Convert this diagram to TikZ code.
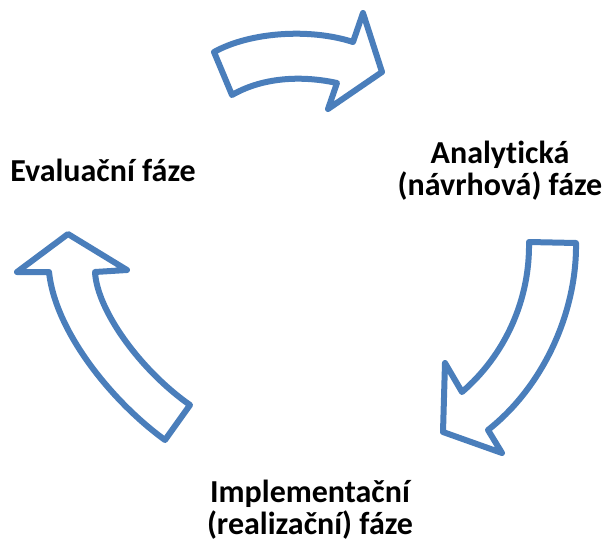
\documentclass[tikz,border=0pt]{standalone}
\usepackage{fontspec}
\setmainfont{Carlito}[Ligatures=NoCommon]
\begin{document}
\begin{tikzpicture}[x=1pt,y=-1pt,
  cyclearrow/.style={draw=arrowblue,line width=6pt,line join=round,fill=white},
  phase/.style={font=\bfseries\fontsize{32}{32}\selectfont,align=center,inner sep=0pt}]
\definecolor{arrowblue}{HTML}{4A7EBB}
\useasboundingbox (0,0) rectangle (603,544);
% top arrow
\draw[cyclearrow] (214,52) .. controls (250,32) and (310,28) .. (353,42) -- (363,13) -- (382,72) -- (328,109) -- (337,83) .. controls (305,76) and (265,76) .. (232,95) -- cycle;
% right arrow
\draw[cyclearrow] (529,242) -- (576,243) .. controls (577,310) and (545,385) .. (488,430) -- (502,453) -- (443,432) -- (445,363) -- (462,392) .. controls (505,355) and (530,300) .. (529,242) -- cycle;
% left arrow
\draw[cyclearrow] (68,234) -- (127,270) -- (95,272) .. controls (97,310) and (140,370) .. (190,405) -- (165,440) .. controls (110,400) and (55,330) .. (49,272) -- (17,272) -- cycle;
% labels
\node[phase] (eval) at (103,170) {Evaluační fáze};
\node[phase] (anal) at (500,171) {Analytická\\(návrhová) fáze};
\node[phase] (impl) at (310,510) {Implementační\\(realizační) fáze};
\end{tikzpicture}
\end{document}
